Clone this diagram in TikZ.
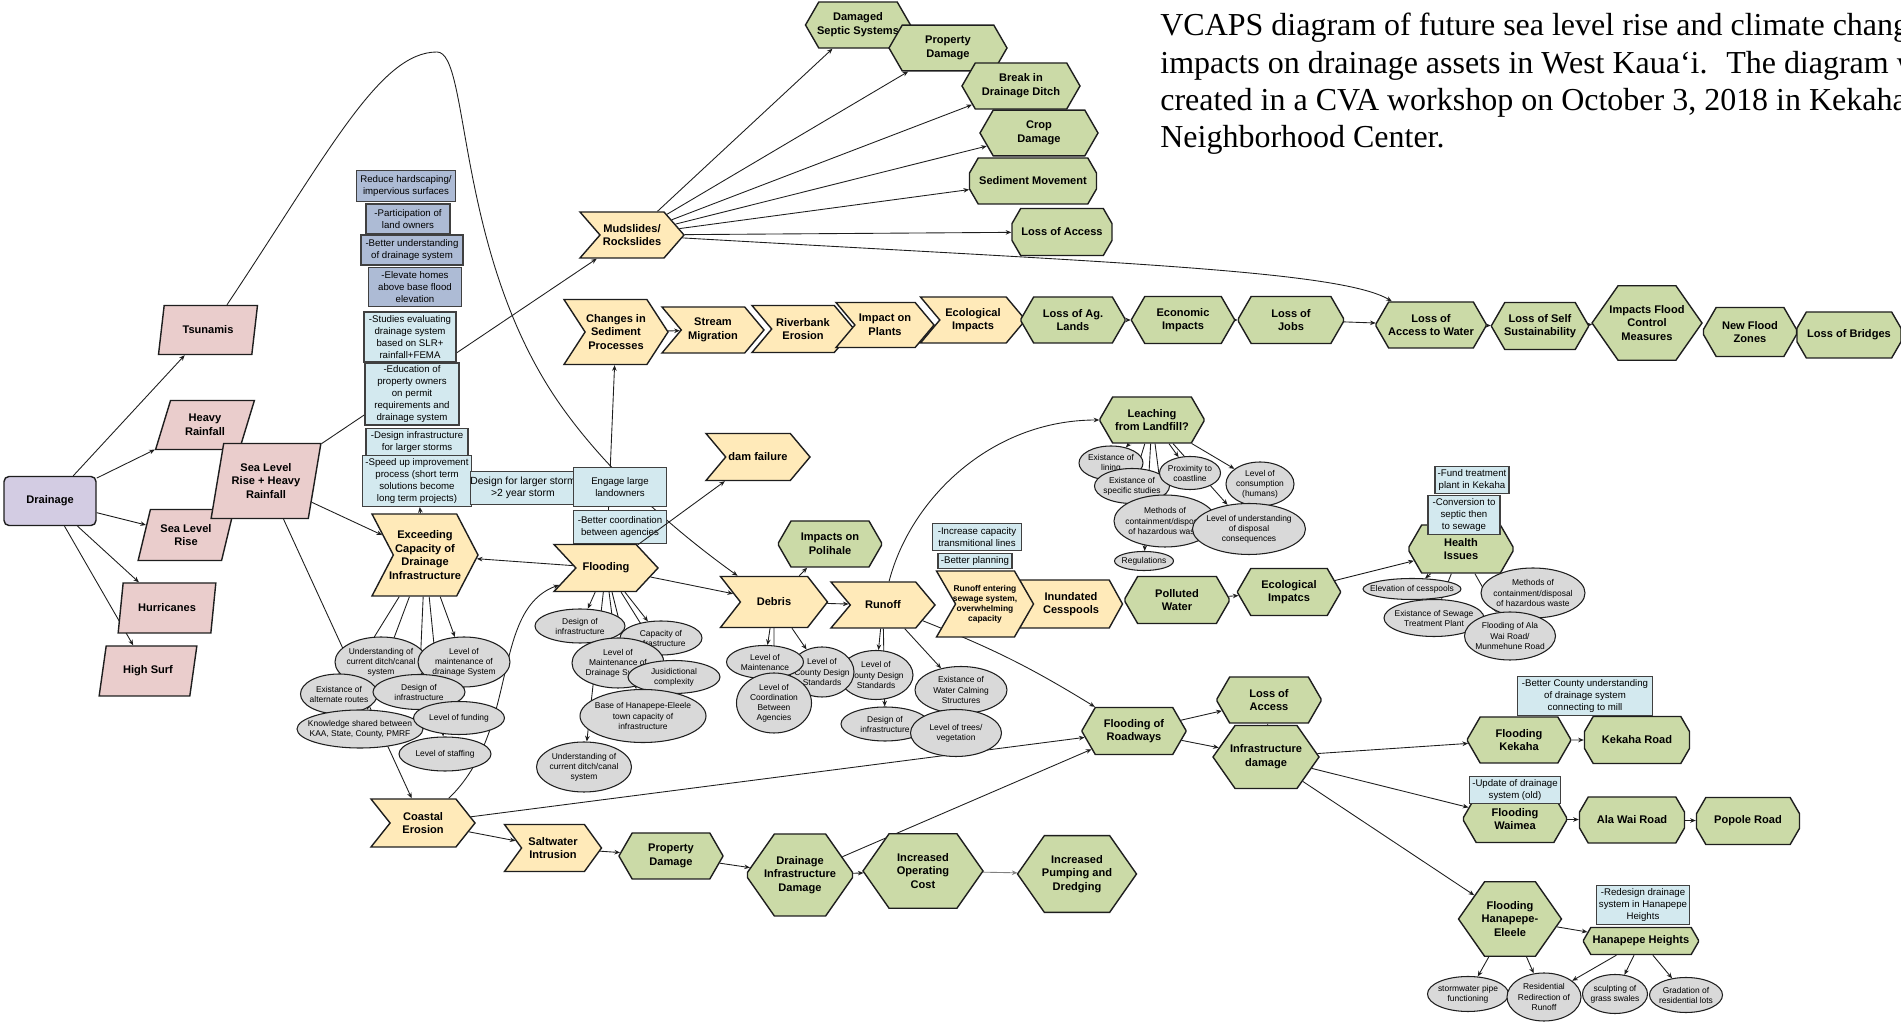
\documentclass[tikz,border=0pt]{standalone}
\usepackage{fontspec}
\setmainfont{Liberation Sans}
\newfontfamily\capfont{Liberation Serif}
\usetikzlibrary{shapes.geometric,shapes.misc,shapes.symbols,arrows.meta}
\pgfdeclarelayer{bg}
\pgfsetlayers{bg,main}
\definecolor{linec}{RGB}{30,30,30}
\definecolor{pinkc}{RGB}{234,205,204}
\definecolor{purplec}{RGB}{211,204,227}
\definecolor{yellowc}{RGB}{255,234,185}
\definecolor{greenc}{RGB}{203,218,167}
\definecolor{cyanc}{RGB}{211,233,239}
\definecolor{bluec}{RGB}{173,187,213}
\definecolor{grayc}{RGB}{217,217,217}
\newcommand{\labfont}{\fontsize{6.3}{7.8}\selectfont\bfseries}
\newcommand{\notefont}{\fontsize{5.5}{6.8}\selectfont}
\newcommand{\ellfont}{\fontsize{4.8}{5.7}\selectfont}
\newcommand{\capsize}{\capfont\fontsize{18.2}{21}\selectfont}
\tikzset{
  wh/.style 2 args={minimum width=#1*0.2mm, minimum height=#2*0.2mm},
  shp/.style={draw=linec, line width=0.8pt, align=center, font=\labfont},
  driver/.style={shp, rectangle, rounded corners=1mm, fill=purplec},
  cause/.style={shp, trapezium, trapezium left angle=68, trapezium right angle=112,
    trapezium stretches, fill=pinkc, inner sep=0pt},
  event/.style={shp, signal, signal from=west, signal to=east, signal pointer angle=100,
    fill=yellowc, inner xsep=-4pt, inner ysep=0pt},
  impact/.style={shp, chamfered rectangle, chamfered rectangle angle=30,
    chamfered rectangle xsep=4.2mm, chamfered rectangle ysep=2.2mm, fill=greenc, inner sep=0pt},
  bigimpact/.style={impact, chamfered rectangle angle=35,
    chamfered rectangle xsep=5.6mm, chamfered rectangle ysep=3.9mm},
  note/.style={draw=linec!85, line width=0.6pt, fill=cyanc, font=\notefont, align=center, inner sep=0pt},
  noteb/.style={note, fill=bluec},
  factor/.style={ellipse, draw=linec, line width=0.6pt, fill=grayc, font=\ellfont, align=center,
    inner xsep=-30pt, inner ysep=-30pt},
  link/.style={draw=linec, line width=0.5pt, -{Stealth[length=3.2pt,width=2.6pt]}},
  capline/.style={anchor=base west, inner sep=0pt, font=\capsize}
}
\begin{document}
\begin{tikzpicture}[x=0.2mm,y=-0.2mm]
\useasboundingbox (0,0) rectangle (1901,1031);
% caption
\begin{scope}
\clip (0,0) rectangle (1901,1031);
\foreach \txt [count=\i] in {VCAPS diagram of future sea level rise and climate change,
  {impacts on drainage assets in West Kaua‘i.~ The diagram was},
  {created in a CVA workshop on October 3, 2018 in Kekaha},
  Neighborhood Center.}
  \node[capline] (cap\i) at (1160,{36+37.3*(\i-1)}) {\txt};
\end{scope}
% drivers and stressors
\node[driver, wh={92}{49}] (drain) at (50,501) {Drainage};
\node[cause, wh={99}{49}] (tsu) at (208,330) {Tsunamis};
\node[cause, wh={99}{49}] (rain) at (205,425) {Heavy\\Rainfall};
\node[cause, wh={96}{51}] (slr) at (186,535) {Sea Level\\Rise};
\node[cause, wh={98}{50}] (hur) at (167,608) {Hurricanes};
\node[cause, wh={98}{50}] (surf) at (148,671) {High Surf};
\node[cause, wh={110}{75}, trapezium left angle=74, trapezium right angle=106] (slrhr) at (266,481) {Sea Level\\Rise + Heavy\\Rainfall};
% options
\node[noteb, wh={99}{31}] (n_hard) at (406,186) {Reduce hardscaping/\\impervious surfaces};
\node[noteb, wh={84}{30}] (n_part) at (408,219) {-Participation of\\land owners};
\node[noteb, wh={102}{30}] (n_under) at (412,250) {-Better understanding\\of drainage system};
\node[noteb, wh={93}{39}] (n_elev) at (415,287) {-Elevate homes\\above base flood\\elevation};
\node[note, wh={92}{50}] (n_study) at (410,337) {-Studies evaluating\\drainage system\\based on SLR+\\rainfall+FEMA};
\node[note, wh={94}{62}] (n_edu) at (412,394) {-Education of\\property owners\\on permit\\requirements and\\drainage system};
\node[note, wh={102}{27}] (n_dlarge) at (417,442) {-Design infrastructure\\for larger storms};
\node[note, wh={109}{51}] (n_speed) at (417,481) {-Speed up improvement\\process (short term\\solutions become\\long term projects)};
\node[note, wh={103}{33}, font=\fontsize{5.9}{6.8}\selectfont] (n_storm) at (523,488) {Design for larger storm\\>2 year storm};
\node[note, wh={93}{39}] (n_engage) at (620,487) {Engage large\\landowners};
\node[note, wh={93}{33}] (n_coord) at (620,527) {-Better coordination\\between agencies};
% events
\node[event, wh={106}{82}, signal pointer angle=125] (exc) at (425,555) {Exceeding\\Capacity of\\Drainage\\Infrastructure};
\node[event, wh={104}{47}, signal pointer angle=94] (flood) at (606,568) {Flooding};
\node[event, wh={104}{48}, signal pointer angle=103] (coast) at (423,823) {Coastal\\Erosion};
\node[event, wh={97}{47}, signal pointer angle=108] (salt) at (553,848) {Saltwater\\Intrusion};
\node[event, wh={104}{46}, signal pointer angle=98] (mud) at (632,235) {Mudslides/\\Rockslides};
\node[event, wh={104}{65}, signal pointer angle=114] (chg) at (616,332) {Changes in\\Sediment\\Processes};
\node[event, wh={102}{46}] (strm) at (713,330) {Stream\\Migration};
\node[event, wh={102}{47}] (rbank) at (803,329) {Riverbank\\Erosion};
\node[event, wh={98}{45}] (plants) at (885,325) {Impact on\\Plants};
\node[event, wh={105}{46}] (ecoi) at (973,320) {Ecological\\Impacts};
\node[event, wh={104}{47}] (dam) at (758,457) {dam failure};
\node[event, wh={107}{51}, signal pointer angle=104] (deb) at (774,602) {Debris};
\node[event, wh={104}{46}] (run) at (883,605) {Runoff};
\node[event, wh={103}{48}, signal pointer angle=122] (cess) at (1071,604) {Inundated\\Cesspools};
\node[event, wh={97}{66}, signal pointer angle=120, font=\fontsize{4.8}{5.7}\selectfont\bfseries] (rent) at (985,604) {Runoff entering\\sewage system,\\overwhelming\\capacity};
\node[note, wh={89}{27}] (n_cap) at (977,537) {-Increase capacity\\transmitional lines};
\node[note, wh={74}{15}] (n_plan) at (975,561) {-Better planning};
% consequences
\node[impact, wh={105}{46}] (sept) at (858,25) {Damaged\\Septic Systems};
\node[impact, wh={118}{42}] (prop1) at (948,48) {Property\\Damage};
\node[impact, wh={118}{46}] (ditch) at (1021,86) {Break in\\Drainage Ditch};
\node[impact, wh={118}{42}] (crop) at (1039,133) {Crop\\Damage};
\node[impact, wh={127}{46}] (sedm) at (1033,181) {Sediment Movement};
\node[impact, wh={100}{47}] (acc1) at (1062,232) {Loss of Access};
\node[impact, wh={104}{46}] (agl) at (1073,320) {Loss of Ag.\\Lands};
\node[impact, wh={103}{47}] (econ) at (1183,320) {Economic\\Impacts};
\node[impact, wh={105}{47}] (jobs) at (1291,320) {Loss of\\Jobs};
\node[impact, wh={110}{46}] (water) at (1431,325) {Loss of\\Access to Water};
\node[impact, wh={97}{47}] (self) at (1540,326) {Loss of Self\\Sustainability};
\node[bigimpact, wh={110}{65}] (fcm) at (1647,323) {Impacts Flood\\Control\\Measures};
\node[impact, wh={93}{49}] (nfz) at (1750,332) {New Flood\\Zones};
\node[impact, wh={104}{46}] (bridge) at (1849,335) {Loss of Bridges};
\node[impact, wh={103}{46}] (poli) at (830,544) {Impacts on\\Polihale};
\node[impact, wh={104}{46}] (leach) at (1152,420) {Leaching\\from Landfill?};
\node[impact, wh={104}{47}] (poll) at (1177,600) {Polluted\\Water};
\node[impact, wh={103}{47}] (ecoj) at (1289,592) {Ecological\\Impatcs};
\node[impact, wh={104}{48}] (health) at (1461,549) {Health\\Issues};
\node[note, wh={74}{27}] (n_fund) at (1472,480) {-Fund treatment\\plant in Kekaha};
\node[note, wh={72}{39}] (n_conv) at (1464,515) {-Conversion to\\septic then\\to sewage};
\node[impact, wh={104}{47}] (road) at (1134,731) {Flooding of\\Roadways};
\node[impact, wh={104}{46}] (acc2) at (1269,700) {Loss of\\Access};
\node[bigimpact, wh={106}{63}] (infra) at (1266,757) {Infrastructure\\damage};
\node[impact, wh={103}{46}] (fkek) at (1519,740) {Flooding\\Kekaha};
\node[impact, wh={105}{47}] (kek) at (1637,740) {Kekaha Road};
\node[note, wh={135}{39}] (n_county) at (1585,696) {-Better County understanding\\of drainage system\\connecting to mill};
\node[impact, wh={103}{47}] (fwai) at (1515,819) {Flooding\\Waimea};
\node[note, wh={91}{27}] (n_update) at (1515,790) {-Update of drainage\\system (old)};
\node[impact, wh={105}{46}] (alawai) at (1632,820) {Ala Wai Road};
\node[impact, wh={103}{47}] (popole) at (1748,821) {Popole Road};
\node[bigimpact, wh={103}{62}] (fhan) at (1510,919) {Flooding\\Hanapepe-\\Eleele};
\node[impact, wh={115}{27}, chamfered rectangle xsep=3.4mm, chamfered rectangle ysep=1.5mm] (hheights) at (1641,941) {Hanapepe Heights};
\node[note, wh={93}{39}] (n_redes) at (1643,905) {-Redesign drainage\\system in Hanapepe\\Heights};
\node[impact, wh={104}{46}] (prop2) at (671,856) {Property\\Damage};
\node[bigimpact, wh={105}{82}] (did) at (800,875) {Drainage\\Infrastructure\\Damage};
\node[bigimpact, wh={120}{63}] (ioc) at (923,871) {Increased\\Operating\\Cost};
\node[bigimpact, wh={119}{65}] (ipd) at (1077,874) {Increased\\Pumping and\\Dredging};
% factors
\node[factor, wh={92}{50}] (e_under) at (381,662) {Understanding of\\current ditch/canal\\system};
\node[factor, wh={92}{50}] (e_maint) at (464,662) {Level of\\maintenance of\\drainage System};
\node[factor, wh={77}{40}] (e_alt) at (339,694) {Existance of\\alternate routes};
\node[factor, wh={92}{35}] (e_design) at (419,692) {Design of\\infrastructure};
\node[factor, wh={126}{38}] (e_know) at (360,729) {Knowledge shared between\\KAA, State, County, PMRF};
\node[factor, wh={91}{33}] (e_fund) at (459,718) {Level of funding};
\node[factor, wh={92}{34}] (e_staff) at (445,754) {Level of staffing};
\node[factor, wh={90}{34}] (f_design) at (580,626) {Design of\\infrastructure};
\node[factor, wh={82}{34}] (f_cap) at (661,638) {Capacity of\\infrastructure};
\node[factor, wh={92}{50}] (f_maint) at (618,663) {Level of\\Maintenance of\\Drainage System};
\node[factor, wh={92}{33}] (f_jur) at (674,677) {Jusidictional\\complexity};
\node[factor, wh={126}{53}] (f_base) at (643,716) {Base of Hanapepe-Eleele\\town capacity of\\infrastructure};
\node[factor, wh={95}{50}] (f_und) at (584,767) {Understanding of\\current ditch/canal\\system};
\node[factor, wh={74}{49}] (r_county) at (876,675) {Level of\\County Design\\Standards};
\node[factor, wh={64}{50}] (d_county) at (822,672) {Level of\\County Design\\Standards};
\node[factor, wh={77}{33}] (d_maint) at (765,662) {Level of\\Maintenance};
\node[factor, wh={75}{60}] (d_coord) at (774,703) {Level of\\Coordination\\Between\\Agencies};
\node[factor, wh={88}{34}] (r_design) at (885,724) {Design of\\infrastructure};
\node[factor, wh={92}{47}] (r_calm) at (961,690) {Existance of\\Water Calming\\Structures};
\node[factor, wh={91}{47}] (r_trees) at (956,733) {Level of trees/\\vegetation};
\node[factor, wh={64}{34}] (l_lining) at (1111,463) {Existance of\\lining};
\node[factor, wh={75}{35}] (l_studies) at (1132,486) {Existance of\\specific studies};
\node[factor, wh={61}{33}] (l_prox) at (1190,473) {Proximity to\\coastline};
\node[factor, wh={68}{44}] (l_cons) at (1260,484) {Level of\\consumption\\(humans)};
\node[factor, wh={102}{52}] (l_meth) at (1165,521) {Methods of\\containment/disposal\\of hazardous waste};
\node[factor, wh={113}{51}] (l_underst) at (1249,529) {Level of understanding\\of disposal\\consequences};
\node[factor, wh={59}{19}] (l_reg) at (1144,561) {Regulations};
\node[factor, wh={98}{21}] (h_elev) at (1412,589) {Elevation of cesspools};
\node[factor, wh={100}{37}] (h_sewage) at (1434,618) {Existance of Sewage\\Treatment Plant};
\node[factor, wh={104}{50}] (h_meth) at (1533,593) {Methods of\\containment/disposal\\of hazardous waste};
\node[factor, wh={91}{48}] (h_alawai) at (1510,636) {Flooding of Ala\\Wai Road/\\Munmehune Road};
\node[factor, wh={81}{35}] (h_pipe) at (1468,994) {stormwater pipe\\functioning};
\node[factor, wh={74}{48}] (h_resid) at (1544,997) {Residential\\Redirection of\\Runoff};
\node[factor, wh={65}{39}] (h_sculpt) at (1615,994) {sculpting of\\grass swales};
\node[factor, wh={73}{35}] (h_grad) at (1686,995) {Gradation of\\residential lots};
% connectors
\begin{pgfonlayer}{bg}
\foreach \n in {tsu,rain,slr,hur,surf} \draw[link] (drain) -- (\n);
\draw[link] (slrhr) -- (exc);
\draw[link] (slrhr) -- (mud);
\draw[link] (slrhr) -- (coast);
\draw[link] ([xshift=3.8mm]tsu.north) .. controls (330,150) and (380,52) .. (437,52)
  .. controls (470,52) and (455,250) .. (557,400) .. controls (598,460) and (660,520) .. (deb);
\draw[link] (exc) -- (n_speed);
\foreach \n in {e_alt,e_know,e_design,e_staff,e_maint} \draw[link] (exc) -- (\n);
\draw[link] (flood) -- (exc);
\draw[link] (flood) -- (chg);
\draw[link] (flood) -- (deb);
\foreach \n in {f_design,f_cap,f_maint,f_jur,f_base,f_und} \draw[link] (flood) -- (\n);
\draw[link] (coast) .. controls (520,730) and (490,610) .. (flood);
\foreach \n in {sept,prop1,ditch,crop,sedm,acc1} \draw[link] (mud) -- (\n);
\draw[link] (mud) .. controls (1100,262) and (1340,270) .. (water);
\draw[link] (chg) -- (strm);
\draw[link] (rbank) -- (plants);
\draw[link] (agl) -- (econ);
\draw[link] (econ) -- (jobs);
\draw[link] (jobs) -- (water);
\draw[link] (water) -- (self);
\draw[link] (self) -- (fcm);
\draw[link] (deb) -- (poli);
\draw[link] (deb) -- (run);
\foreach \n in {d_maint,d_county,d_coord} \draw[link] (deb) -- (\n);
\foreach \n in {r_county,r_design,r_calm} \draw[link] (run) -- (\n);
\draw[link] (run) to[bend left=5] (road);
\draw[link] (run) .. controls (910,500) and (990,420) .. (leach);
\foreach \n in {l_lining,l_studies,l_prox,l_cons,l_meth,l_underst,l_reg} \draw[link] (leach) -- (\n);
\draw[link] (poll) -- (ecoj);
\draw[link] (ecoj) -- (health);
\foreach \n in {h_elev,h_sewage,h_meth,h_alawai} \draw[link] (health) -- (\n);
\draw[link] (coast) -- (salt);
\draw[link] (salt) -- (prop2);
\draw[link] (prop2) -- (did);
\draw[link] (did) -- (ioc);
\draw[link, draw=gray] (ioc) -- (ipd);
\draw[link] (did) -- (road);
\draw[link] (coast) -- (road);
\draw[link] (road) -- (acc2);
\draw[link] (road) -- (infra);
\draw[link] (infra) -- (acc2);
\foreach \n in {fkek,fwai,fhan} \draw[link] (infra) -- (\n);
\draw[link] (fkek) -- (kek);
\draw[link] (fwai) -- (alawai);
\draw[link] (alawai) -- (popole);
\draw[link] (fhan) -- (hheights);
\draw[link] (fhan) -- (h_pipe);
\draw[link] (fhan) -- (h_resid);
\foreach \n in {h_resid,h_sculpt,h_grad} \draw[link] (hheights) -- (\n);
\end{pgfonlayer}
\draw[link] (flood) -- (dam);
\end{tikzpicture}
\end{document}
